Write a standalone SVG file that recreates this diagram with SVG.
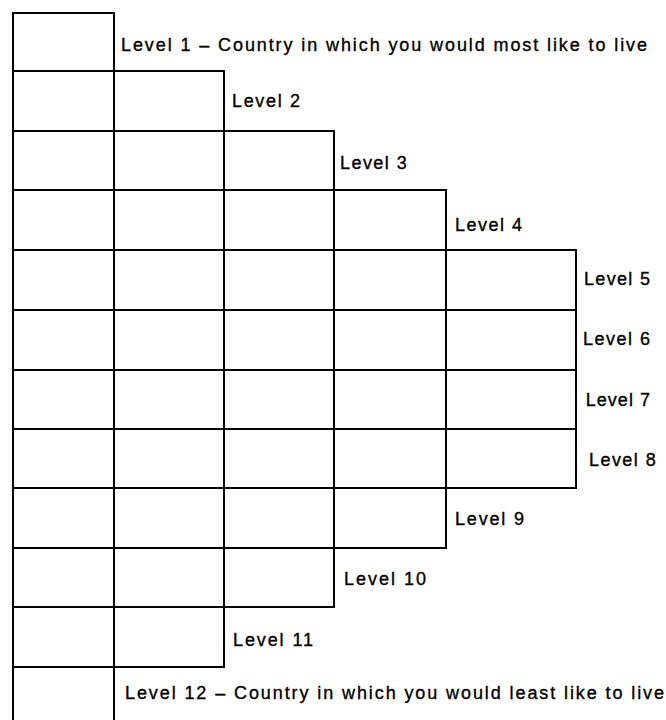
<svg xmlns="http://www.w3.org/2000/svg" width="666" height="720" viewBox="0 0 666 720">
<style>
.c{fill:none;stroke:#000;stroke-width:2}
.t{font-family:"Liberation Sans",Arial,sans-serif;font-size:18px;fill:#000;stroke:#000;stroke-width:0.35}
</style>
<rect width="666" height="720" fill="#fff"/>
<g id="level1"><rect class="c" x="13" y="13" width="101" height="58"/><text class="t" x="121" y="50.5" textLength="526" lengthAdjust="spacing">Level 1 – Country in which you would most like to live</text></g>
<g id="level2"><rect class="c" x="13" y="71" width="101" height="60"/><rect class="c" x="114" y="71" width="110" height="60"/><text class="t" x="232" y="107" textLength="68" lengthAdjust="spacing">Level 2</text></g>
<g id="level3"><rect class="c" x="13" y="131" width="101" height="59"/><rect class="c" x="114" y="131" width="110" height="59"/><rect class="c" x="224" y="131" width="110" height="59"/><text class="t" x="340" y="168.5" textLength="66.7" lengthAdjust="spacing">Level 3</text></g>
<g id="level4"><rect class="c" x="13" y="190" width="101" height="60"/><rect class="c" x="114" y="190" width="110" height="60"/><rect class="c" x="224" y="190" width="110" height="60"/><rect class="c" x="334" y="190" width="112" height="60"/><text class="t" x="455" y="231" textLength="67" lengthAdjust="spacing">Level 4</text></g>
<g id="level5"><rect class="c" x="13" y="250" width="101" height="60"/><rect class="c" x="114" y="250" width="110" height="60"/><rect class="c" x="224" y="250" width="110" height="60"/><rect class="c" x="334" y="250" width="112" height="60"/><rect class="c" x="446" y="250" width="130" height="60"/><text class="t" x="584" y="285" textLength="66" lengthAdjust="spacing">Level 5</text></g>
<g id="level6"><rect class="c" x="13" y="310" width="101" height="60"/><rect class="c" x="114" y="310" width="110" height="60"/><rect class="c" x="224" y="310" width="110" height="60"/><rect class="c" x="334" y="310" width="112" height="60"/><rect class="c" x="446" y="310" width="130" height="60"/><text class="t" x="583" y="345" textLength="67" lengthAdjust="spacing">Level 6</text></g>
<g id="level7"><rect class="c" x="13" y="370" width="101" height="59"/><rect class="c" x="114" y="370" width="110" height="59"/><rect class="c" x="224" y="370" width="110" height="59"/><rect class="c" x="334" y="370" width="112" height="59"/><rect class="c" x="446" y="370" width="130" height="59"/><text class="t" x="585.7" y="406" textLength="64.3" lengthAdjust="spacing">Level 7</text></g>
<g id="level8"><rect class="c" x="13" y="429" width="101" height="59"/><rect class="c" x="114" y="429" width="110" height="59"/><rect class="c" x="224" y="429" width="110" height="59"/><rect class="c" x="334" y="429" width="112" height="59"/><rect class="c" x="446" y="429" width="130" height="59"/><text class="t" x="589" y="466" textLength="66.7" lengthAdjust="spacing">Level 8</text></g>
<g id="level9"><rect class="c" x="13" y="488" width="101" height="60"/><rect class="c" x="114" y="488" width="110" height="60"/><rect class="c" x="224" y="488" width="110" height="60"/><rect class="c" x="334" y="488" width="112" height="60"/><text class="t" x="455" y="525" textLength="69" lengthAdjust="spacing">Level 9</text></g>
<g id="level10"><rect class="c" x="13" y="548" width="101" height="59"/><rect class="c" x="114" y="548" width="110" height="59"/><rect class="c" x="224" y="548" width="110" height="59"/><text class="t" x="344" y="585" textLength="82" lengthAdjust="spacing">Level 10</text></g>
<g id="level11"><rect class="c" x="13" y="607" width="101" height="60"/><rect class="c" x="114" y="607" width="110" height="60"/><text class="t" x="233" y="646" textLength="80" lengthAdjust="spacing">Level 11</text></g>
<g id="level12"><rect class="c" x="13" y="667" width="101" height="70"/><text class="t" x="125" y="699" textLength="539" lengthAdjust="spacing">Level 12 – Country in which you would least like to live</text></g>
<g id="connectors"></g>
</svg>
